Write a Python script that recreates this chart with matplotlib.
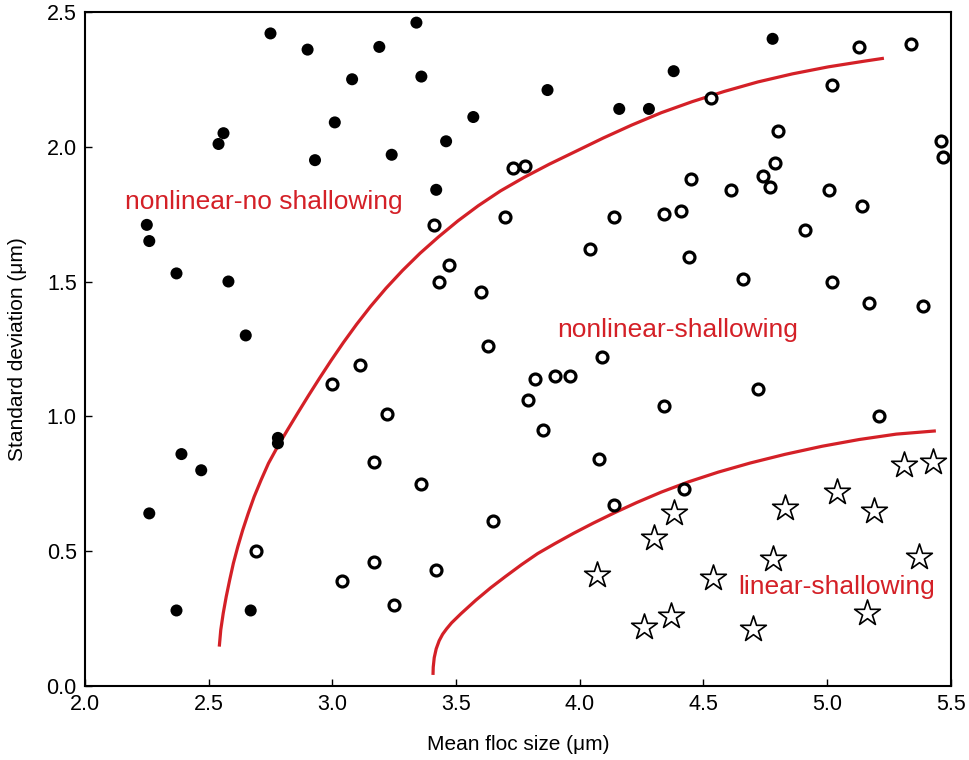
import matplotlib
matplotlib.use('Agg')
import matplotlib.pyplot as plt

plt.rcParams['font.family'] = ['Liberation Sans', 'DejaVu Sans']

#Filled dots (nonlinear-no shallowing)
filled_x = [2.75, 2.90, 3.19, 3.34, 3.08, 3.01, 3.36, 3.57, 2.56, 2.54, 2.93, 3.24, 3.46, 3.42,
            3.87, 4.16, 4.28, 4.38, 4.78, 2.25, 2.26, 2.37, 2.58, 2.65, 2.78, 2.78, 2.39, 2.47,
            2.26, 2.37, 2.67]
filled_y = [2.42, 2.36, 2.37, 2.46, 2.25, 2.09, 2.26, 2.11, 2.05, 2.01, 1.95, 1.97, 2.02, 1.84,
            2.21, 2.14, 2.14, 2.28, 2.40, 1.71, 1.65, 1.53, 1.50, 1.30, 0.92, 0.90, 0.86, 0.80,
            0.64, 0.28, 0.28]

#Open circles (nonlinear-shallowing)
open_x = [3.41, 3.43, 3.47, 3.60, 3.63, 3.70, 3.73, 3.78, 4.14, 4.04, 4.34, 4.41, 4.44, 4.45,
          4.53, 4.61, 4.66, 4.74, 4.77, 4.79, 4.80, 4.91, 5.01, 5.02, 5.13, 5.02, 5.14, 5.17,
          5.34, 5.46, 5.47, 5.39, 5.21, 3.00, 3.11, 3.22, 3.17, 3.36, 2.69, 3.04, 3.17, 3.25,
          3.42, 3.65, 3.82, 3.90, 3.96, 3.79, 3.85, 4.09, 4.08, 4.14, 4.34, 4.42, 4.72]
open_y = [1.71, 1.50, 1.56, 1.46, 1.26, 1.74, 1.92, 1.93, 1.74, 1.62, 1.75, 1.76, 1.59, 1.88,
          2.18, 1.84, 1.51, 1.89, 1.85, 1.94, 2.06, 1.69, 1.84, 1.50, 2.37, 2.23, 1.78, 1.42,
          2.38, 2.02, 1.96, 1.41, 1.00, 1.12, 1.19, 1.01, 0.83, 0.75, 0.50, 0.39, 0.46, 0.30,
          0.43, 0.61, 1.14, 1.15, 1.15, 1.06, 0.95, 1.22, 0.84, 0.67, 1.04, 0.73, 1.10]

#Stars (linear-shallowing)
star_x = [4.07, 4.26, 4.37, 4.30, 4.38, 4.54, 4.70, 4.78, 4.83, 5.04, 5.19, 5.16, 5.37, 5.31, 5.43]
star_y = [0.41, 0.22, 0.26, 0.55, 0.64, 0.40, 0.21, 0.47, 0.66, 0.72, 0.65, 0.27, 0.48, 0.82, 0.83]

#Boundary curves, points
upper_x = [2.543, 2.549, 2.559, 2.571, 2.585, 2.600, 2.618, 2.638, 2.660, 2.684, 2.712, 2.742,
           2.779, 2.819, 2.860, 2.903, 2.948, 2.995, 3.045, 3.098, 3.155, 3.217, 3.284, 3.355,
           3.430, 3.508, 3.590, 3.680, 3.775, 3.877, 3.985, 4.095, 4.210, 4.330, 4.455, 4.585,
           4.720, 4.860, 5.005, 5.150, 5.230]
upper_y = [0.146, 0.208, 0.270, 0.331, 0.393, 0.455, 0.517, 0.579, 0.640, 0.702, 0.764, 0.826,
           0.888, 0.950, 1.012, 1.076, 1.141, 1.207, 1.274, 1.341, 1.408, 1.475, 1.541, 1.605,
           1.666, 1.725, 1.781, 1.836, 1.886, 1.935, 1.983, 2.032, 2.080, 2.126, 2.167, 2.205,
           2.240, 2.270, 2.296, 2.317, 2.328]
lower_x = [3.407, 3.408, 3.412, 3.420, 3.432, 3.446, 3.462, 3.482, 3.520, 3.580, 3.640, 3.700,
           3.765, 3.830, 3.900, 3.975, 4.055, 4.140, 4.230, 4.330, 4.440, 4.560, 4.690, 4.830,
           4.980, 5.130, 5.280, 5.440]
lower_y = [0.041, 0.070, 0.105, 0.138, 0.168, 0.192, 0.212, 0.234, 0.268, 0.318, 0.364, 0.406,
           0.450, 0.491, 0.528, 0.566, 0.604, 0.642, 0.680, 0.719, 0.757, 0.793, 0.827, 0.859,
           0.889, 0.914, 0.934, 0.946]

red = '#d42027'

fig = plt.figure(figsize=(9.7, 7.6), dpi=100)
ax = fig.add_axes([0.0876, 0.0974, 0.8925, 0.887])

#Boundaries
ax.plot(upper_x, upper_y, color=red, lw=2.3, solid_capstyle='butt', solid_joinstyle='round', zorder=2)
ax.plot(lower_x, lower_y, color=red, lw=2.3, solid_capstyle='butt', solid_joinstyle='round', zorder=2)

#Points
ax.scatter(filled_x, filled_y, s=75, c='black', edgecolors='none', zorder=3)
ax.scatter(open_x, open_y, s=62, facecolors='white', edgecolors='black', linewidths=2.3, zorder=3)
ax.scatter(star_x, star_y, s=380, marker='*', facecolors='white', edgecolors='black',
           linewidths=1.2, zorder=3)

#Region labels
ax.text(2.162, 1.795, 'nonlinear-no shallowing', color=red, fontsize=19, va='center')
ax.text(3.91, 1.32, 'nonlinear-shallowing', color=red, fontsize=19, va='center')
ax.text(4.643, 0.367, 'linear-shallowing', color=red, fontsize=19, va='center')

ax.set_xlim(2.0, 5.5)
ax.set_ylim(0.0, 2.5)
ax.set_xticks([2.0, 2.5, 3.0, 3.5, 4.0, 4.5, 5.0, 5.5])
ax.set_yticks([0.0, 0.5, 1.0, 1.5, 2.0, 2.5])
ax.set_xticklabels(['2.0', '2.5', '3.0', '3.5', '4.0', '4.5', '5.0', '5.5'])
ax.set_yticklabels(['0.0', '0.5', '1.0', '1.5', '2.0', '2.5'])
ax.tick_params(direction='in', length=5, width=1, labelsize=15.5, pad=6)
for sp in ax.spines.values():
    sp.set_linewidth(1.5)

ax.set_xlabel('Mean floc size (\u03bcm)', fontsize=15, labelpad=14)
ax.set_ylabel('Standard deviation (\u03bcm)', fontsize=15)
ax.yaxis.set_label_coords(-0.067, 0.5)

fig.savefig('out.png', dpi=100)
